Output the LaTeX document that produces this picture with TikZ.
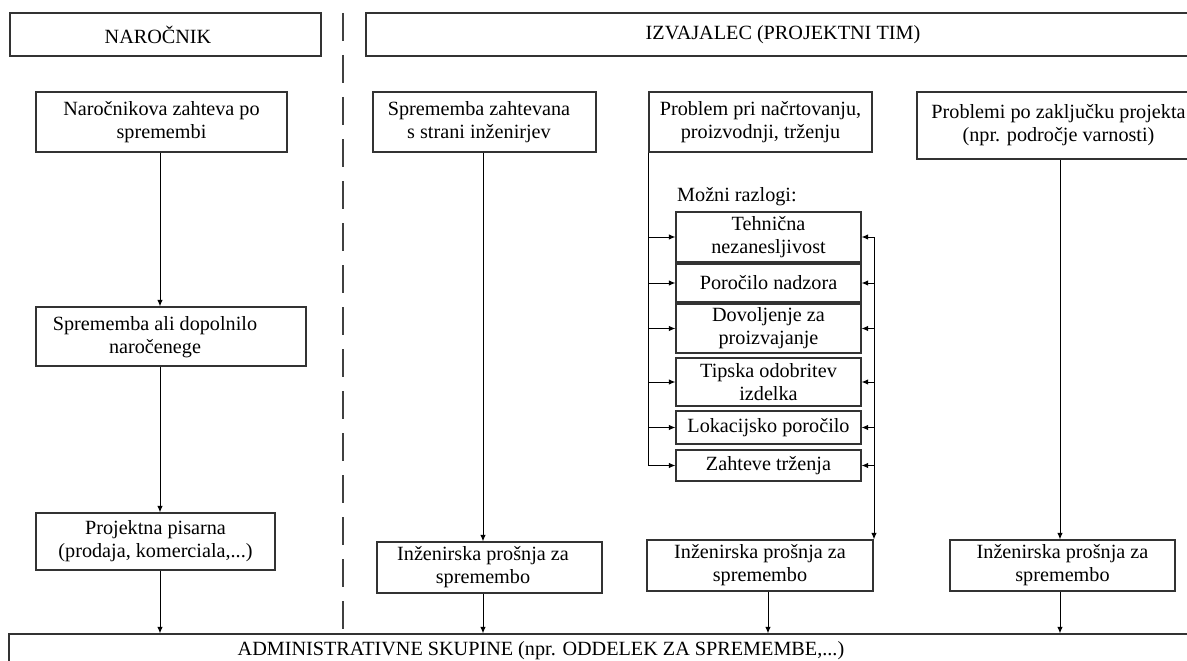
\documentclass[tikz,border=0pt]{standalone}
\usepackage{fontspec}
\setmainfont{Liberation Serif}
\usetikzlibrary{arrows.meta}

\begin{document}
\begin{tikzpicture}[x=1pt,y=-1pt,
  font=\fontsize{20.2}{23}\selectfont,
  box/.style={draw=black!80, line width=1.2pt, fill=white, inner sep=0pt, align=center},
  txt/.style={inner sep=0pt, align=center},
  link/.style={draw=black, line width=1pt},
  arr/.style={link, -{Latex[length=6.5pt,width=5.5pt]}},
  divider/.style={draw=black!75, line width=1.3pt, dash pattern=on 28pt off 14pt}
]
\useasboundingbox (0,0) rectangle (1187,661);

% column axes of the vertical connectors
\coordinate (colA) at (160,0);
\coordinate (colB) at (483,0);
\coordinate (colC) at (768,0);
\coordinate (colD) at (1060,0);
\coordinate (rbus) at (874,0);

% divider between client and contractor
\coordinate (divTop) at (343,13);
\coordinate (divBot) at (343,634);
\draw[divider] (divTop) -- (divBot);

% headers
\node[box, minimum width=311, minimum height=43] (hdrL) at (165.5,34.5) {};
\node[txt] (hdrLt) at (158,34.5) {NAROČNIK};
\node[box, minimum width=834, minimum height=43] (hdrR) at (783,34.5) {IZVAJALEC (PROJEKTNI TIM)};

% client column
\node[box, minimum width=251, minimum height=60] (a1) at (161.5,122) {Naročnikova zahteva po\\spremembi};
\node[box, minimum width=270, minimum height=59] (a2) at (171,336.5) {};
\node[txt] (a2t) at (155,337) {Sprememba ali dopolnilo\\naročenege};
\node[box, minimum width=239, minimum height=57] (a3) at (155.5,541.5) {Projektna pisarna\\(prodaja, komerciala,...)};

% engineers column
\node[box, minimum width=223, minimum height=60] (b1) at (484.5,122) {};
\node[txt] (b1t) at (479,122) {Sprememba zahtevana\\s strani inženirjev};
\node[box, minimum width=225, minimum height=51] (b2) at (489.5,567.5) {};
\node[txt] (b2t) at (483,567) {Inženirska prošnja za\\spremembo};

% design / production / marketing column
\node[box, minimum width=223, minimum height=60] (c1) at (760.5,122) {Problem pri načrtovanju,\\proizvodnji, trženju};
\node[txt, anchor=west] (why) at (677,197) {Možni razlogi:};
\node[box, minimum width=185, minimum height=50] (r1) at (768.5,237) {Tehnična\\nezanesljivost};
\node[box, minimum width=185, minimum height=38] (r2) at (768.5,283) {Poročilo nadzora};
\node[box, minimum width=185, minimum height=49] (r3) at (768.5,328.5) {Dovoljenje za\\proizvajanje};
\node[box, minimum width=185, minimum height=48] (r4) at (768.5,382) {Tipska odobritev\\izdelka};
\node[box, minimum width=185, minimum height=33] (r5) at (768.5,427.5) {Lokacijsko poročilo};
\node[box, minimum width=185, minimum height=31] (r6) at (768.5,465.5) {Zahteve trženja};
\node[box, minimum width=226, minimum height=51] (c2) at (760,565.5) {Inženirska prošnja za\\spremembo};

% post-project column
\node[box, minimum width=283, minimum height=67] (d1) at (1058.5,125.5) {Problemi po zaključku projekta\\(npr. področje varnosti)};
\node[box, minimum width=225, minimum height=51] (d2) at (1062.5,565.5) {Inženirska prošnja za\\spremembo};

% administrative groups
\node[box, minimum width=1191, minimum height=66] (bot) at (604.5,667) {};
\node[txt] (bott) at (541,651) {ADMINISTRATIVNE SKUPINE (npr. ODDELEK ZA SPREMEMBE,...)};

% client flow
\draw[arr] (a1.south -| colA) -- (a2.north -| colA);
\draw[arr] (a2.south -| colA) -- (a3.north -| colA);
\draw[arr] (a3.south -| colA) -- (bot.north -| colA);

% engineers flow
\draw[arr] (b1.south -| colB) -- (b2.north -| colB);
\draw[arr] (b2.south -| colB) -- (bot.north -| colB);

% reasons: left feed bus
\draw[link] (c1.south west) -- (c1.south west |- r6.west);
\foreach \r in {r1,r2,r3,r4,r5,r6}
  \draw[arr] (c1.south west |- \r.west) -- (\r.west);
% reasons: right collecting bus
\draw[arr] (r1.east -| rbus) -- (c2.north -| rbus);
\foreach \r in {r1,r2,r3,r4,r5,r6}
  \draw[arr] (\r.east -| rbus) -- (\r.east);
\draw[arr] (c2.south -| colC) -- (bot.north -| colC);

% post-project flow
\draw[arr] (d1.south -| colD) -- (d2.north -| colD);
\draw[arr] (d2.south -| colD) -- (bot.north -| colD);
\end{tikzpicture}
\end{document}
